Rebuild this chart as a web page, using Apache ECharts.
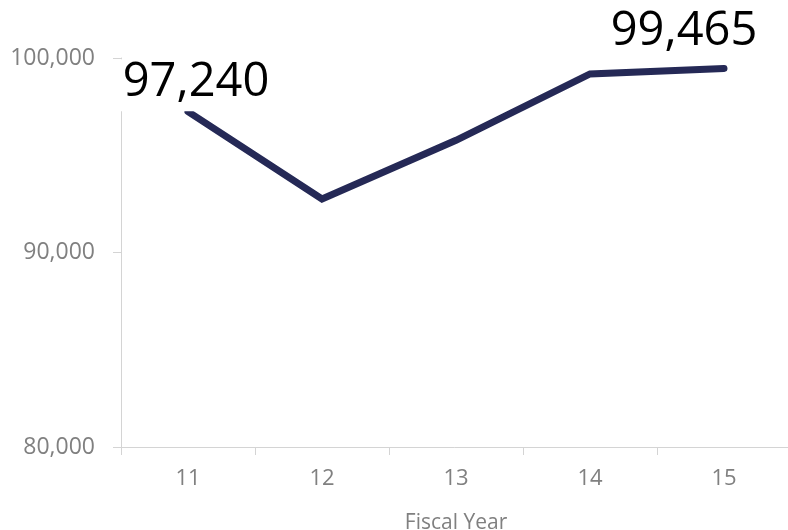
<!DOCTYPE html>
<html>
<head>
<meta charset="utf-8">
<script src="https://cdn.jsdelivr.net/npm/echarts@6/dist/echarts.min.js"></script>
<style>
html,body{margin:0;padding:0;background:#fff;}
#chart{width:788px;height:530px;}
</style>
</head>
<body>
<div id="chart"></div>
<script>
var categories = ['11', '12', '13', '14', '15'];
var values = [97240, 92750, 95770, 99180, 99465];
var yTicks = [80000, 90000, 100000];

var chart = echarts.init(document.getElementById('chart'), null, {renderer: 'canvas'});
var fmt = function (v) { return v.toLocaleString('en-US'); };
var labelBase = {
  show: true,
  position: 'top',
  distance: 0,
  fontFamily: 'Open Sans',
  fontSize: 47,
  color: '#000',
  formatter: function (p) { return fmt(p.value); }
};
var data = values.map(function (v, i) {
  var d = {value: v, label: {show: false}};
  if (i === 0) {
    d.label = Object.assign({}, labelBase, {backgroundColor: '#fff', padding: [0, 7, 5, 7], offset: [8, 0]});
  } else if (i === values.length - 1) {
    d.label = Object.assign({}, labelBase, {padding: [0, 0, 10, 0], offset: [-40, -3]});
  }
  return d;
});

chart.setOption({
  animation: false,
  backgroundColor: '#fff',
  grid: {left: 121, right: -3, top: 58, bottom: 83, containLabel: false, outerBoundsMode: 'none'},
  xAxis: {
    type: 'category',
    data: categories,
    boundaryGap: true,
    name: 'Fiscal Year',
    nameLocation: 'middle',
    nameGap: 66,
    nameTextStyle: {fontFamily: 'Open Sans', fontSize: 21, color: '#808080'},
    axisLine: {show: true, lineStyle: {color: '#d4d4d4', width: 1}},
    axisTick: {show: true, length: 8, alignWithLabel: false, lineStyle: {color: '#d4d4d4'}},
    axisLabel: {fontFamily: 'Open Sans', fontSize: 22, color: '#808080', margin: 21}
  },
  yAxis: {
    type: 'value',
    min: yTicks[0],
    max: yTicks[yTicks.length - 1],
    interval: 10000,
    splitLine: {show: false},
    axisLine: {show: true, lineStyle: {color: '#d4d4d4', width: 1}},
    axisTick: {show: true, length: 8, lineStyle: {color: '#d4d4d4'}},
    axisLabel: {fontFamily: 'Open Sans', fontSize: 23, color: '#808080', margin: 26, formatter: fmt}
  },
  series: [{
    type: 'line',
    data: data,
    symbol: 'circle',
    symbolSize: 1,
    showSymbol: true,
    itemStyle: {color: 'rgba(0,0,0,0)'},
    lineStyle: {color: '#252956', width: 7, cap: 'round', join: 'miter'},
    emphasis: {disabled: true}
  }]
});
</script>
</body>
</html>
